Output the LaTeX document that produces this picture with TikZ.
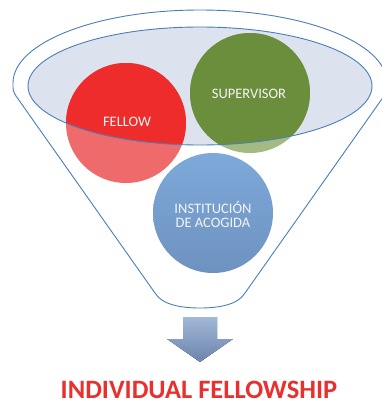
\documentclass[tikz,border=0pt]{standalone}
\usepackage{fontspec}
\setmainfont{Carlito}
\definecolor{funnelline}{HTML}{4A7EBB}
\definecolor{rimfill}{HTML}{DCE3EE}
\definecolor{fellowred}{HTML}{EE2C2C}
\definecolor{fellowpale}{HTML}{EF6B6B}
\definecolor{supgreen}{HTML}{6B8E3C}
\definecolor{suppale}{HTML}{A3BB83}
\definecolor{hostblueA}{HTML}{7DA9DA}
\definecolor{hostblueB}{HTML}{6E92C0}
\definecolor{arrowA}{HTML}{A2B8D8}
\definecolor{arrowB}{HTML}{6C84AB}
\definecolor{titlered}{HTML}{E8302E}
\definecolor{labelwhite}{HTML}{F4F4F4}
\tikzset{
  outline/.style={draw=funnelline, line width=0.9pt},
  disc/.style={circle, minimum size=120pt, inner sep=0pt},
  disclabel/.style={text=labelwhite, font=\fontsize{14.5}{14}\selectfont, align=center, inner sep=0pt},
}
\begin{document}
\begin{tikzpicture}[x=1pt,y=-1pt]
\useasboundingbox (0,0) rectangle (381,402);
\fill[white] (0,0) rectangle (381,402);

% funnel body: upper rim arc, tapering sides and rounded bottom
\draw[outline, line join=round]
  (155,293) -- (16,96) .. controls (13,91) .. (13,83)
  arc[start angle=180, end angle=360, x radius=187, y radius=73]
  .. controls (387,91) .. (384,96) -- (245,293)
  .. controls (238,305) and (218,308) .. (200,308)
  .. controls (182,308) and (162,305) .. (155,293) -- cycle;

% inner rim surface
\fill[rimfill] (200,86) ellipse[x radius=172, y radius=59];

% discs, pale where they hang below the rim
\node[disc, fill=fellowpale] (fellow) at (126,123) {};
\node[disc, fill=suppale] (supervisor) at (250,93) {};
\node[disc, top color=hostblueA, bottom color=hostblueB] (host) at (213,213) {};

% full colour inside the rim
\begin{scope}
  \clip (200,86) ellipse[x radius=172, y radius=59];
  \fill[fellowred] (fellow.center) circle[radius=60];
  \fill[supgreen] (supervisor.center) circle[radius=60];
\end{scope}

% rim outline over the discs
\draw[outline] (200,86) ellipse[x radius=172, y radius=59];

% disc labels
\node[disclabel] (fellowtext) at (127,122) {FELLOW};
\node[disclabel] (supervisortext) at (249,94) {SUPERVISOR};
\node[disclabel] (hosttext) at (213,214) {INSTITUCIÓN\\DE ACOGIDA};

% output arrow
\fill[top color=arrowA, bottom color=arrowB]
  (183,317) -- (217,317) -- (217,339) -- (233,339) -- (200,362)
  -- (167,339) -- (183,339) -- cycle;

% result
\node[text=titlered, font=\bfseries\fontsize{26.5}{28}\selectfont, inner sep=0pt] (title) at (199,389.5) {INDIVIDUAL FELLOWSHIP};
\end{tikzpicture}
\end{document}
